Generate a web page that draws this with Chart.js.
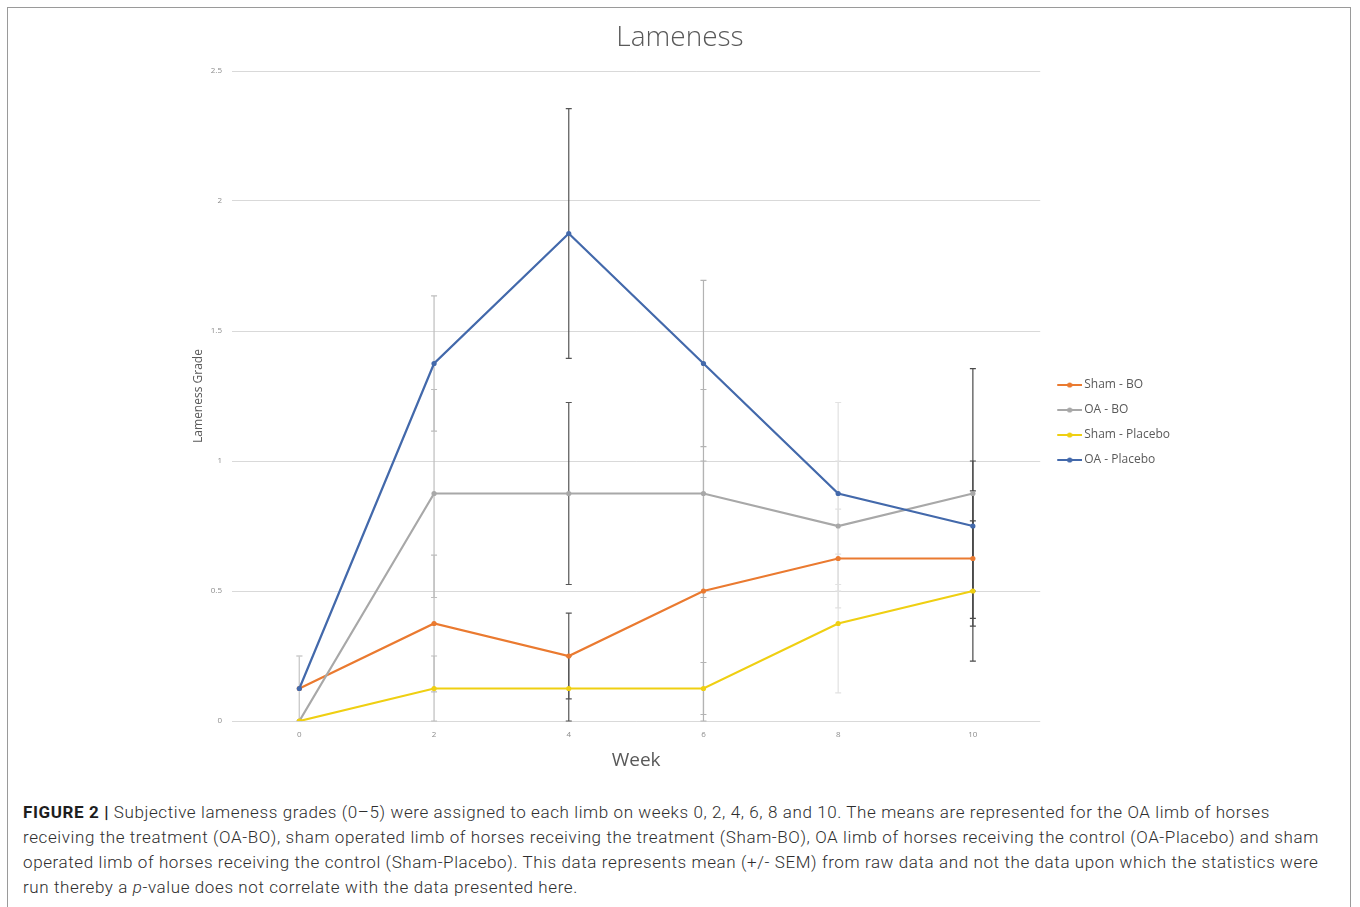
<!DOCTYPE html>
<html>
<head>
<meta charset="utf-8">
<title>Lameness</title>
<script src="https://cdn.jsdelivr.net/npm/chart.js@4/dist/chart.umd.min.js"></script>
<style>
  html, body { margin: 0; padding: 0; background: #fff; }
  #page { position: relative; width: 1360px; height: 907px; overflow: hidden; }
  #frame { position: absolute; left: 7px; top: 7px; width: 1344px; height: 910px; border: 1px solid #9a9a9a; box-sizing: border-box; }
  #chart { position: absolute; left: 0; top: 0; }
  #caption {
    position: absolute; left: 23px; top: 800px;
    font-family: "Roboto", "Liberation Sans", sans-serif; font-weight: 300;
    font-size: 17px; line-height: 25px; letter-spacing: 0.6px; color: #2e2e2e; white-space: nowrap;
  }
  #caption b { color: #1e1e1e; font-weight: 700; }
</style>
</head>
<body>
<div id="page">
  <div id="frame"></div>
  <canvas id="chart" width="1360" height="780"></canvas>
  <div id="caption">
    <b>FIGURE 2 |</b> Subjective lameness grades (0–5) were assigned to each limb on weeks 0, 2, 4, 6, 8 and 10. The means are represented for the OA limb of horses<br>
    receiving the treatment (OA-BO), sham operated limb of horses receiving the treatment (Sham-BO), OA limb of horses receiving the control (OA-Placebo) and sham<br>
    operated limb of horses receiving the control (Sham-Placebo). This data represents mean (+/- SEM) from raw data and not the data upon which the statistics were<br>
    run thereby a <i>p</i>-value does not correlate with the data presented here.
  </div>
</div>
<script>
// Weeks after surgery
const weeks = ['0', '2', '4', '6', '8', '10'];

// Mean lameness grade per group
const shamBO      = [0.125, 0.375, 0.25,  0.5,   0.625, 0.625];
const oaBO        = [0,     0.875, 0.875, 0.875, 0.75,  0.875];
const shamPlacebo = [0,     0.125, 0.125, 0.125, 0.375, 0.5];
const oaPlacebo   = [0.125, 1.375, 1.875, 1.375, 0.875, 0.75];

// Standard error of the mean per group
const shamBOSem      = [0.125, 0.263, 0.165, 0.5,  0.19,  0.26];
const oaBOSem        = [0,     0.4,   0.35,  0.4,  0.25,  0.48];
const shamPlaceboSem = [0,     0.125, 0.125, 0.1,  0.267, 0.27];
const oaPlaceboSem   = [0.125, 0.26,  0.48,  0.32, 0.35,  0.25];

// Y axis tick labels
const yTickLabels = ['0', '0.5', '1', '1.5', '2', '2.5'];

const seriesNames = ['Sham - BO', 'OA - BO', 'Sham - Placebo', 'OA - Placebo'];
const seriesColors = ['#ea7a30', '#a8a8a8', '#efcf12', '#4369ab'];
const errorBarColors = ['#cdcdcd', '#bdbdbd', '#555555', '#b3b3b3', '#e2e2e2', '#4a4a4a'];

const FONT = '"Open Sans", "Liberation Sans", sans-serif';

// Line-with-marker swatch for the legend (left margin keeps it next to the text)
function legendSwatch(color) {
  const c = document.createElement('canvas');
  c.width = 33; c.height = 8;
  const g = c.getContext('2d');
  g.strokeStyle = color; g.lineWidth = 2;
  g.beginPath(); g.moveTo(8, 4); g.lineTo(33, 4); g.stroke();
  g.fillStyle = color;
  g.beginPath(); g.arc(20.5, 4, 2.6, 0, Math.PI * 2); g.fill();
  return c;
}

// Vertical error bars with caps, positioned through the chart scales
const errorBars = {
  id: 'errorBars',
  beforeDatasetsDraw(chart) {
    const ctx = chart.ctx;
    const xs = chart.scales.x, ys = chart.scales.y;
    ctx.save();
    ctx.lineWidth = 1.2;
    chart.data.datasets.forEach(ds => {
      ds.sem.forEach((e, i) => {
        if (!e) return;
        const x = xs.getPixelForValue(i);
        const yTop = ys.getPixelForValue(ds.data[i] + e);
        const yBot = ys.getPixelForValue(Math.max(0, ds.data[i] - e));
        ctx.strokeStyle = errorBarColors[i];
        ctx.beginPath();
        ctx.moveTo(x, yTop); ctx.lineTo(x, yBot);
        ctx.moveTo(x - 3, yTop); ctx.lineTo(x + 3, yTop);
        ctx.moveTo(x - 3, yBot); ctx.lineTo(x + 3, yBot);
        ctx.stroke();
      });
    });
    ctx.restore();
  }
};

const groups = [
  { data: shamBO, sem: shamBOSem, order: 3 },
  { data: oaBO, sem: oaBOSem, order: 2 },
  { data: shamPlacebo, sem: shamPlaceboSem, order: 1 },
  { data: oaPlacebo, sem: oaPlaceboSem, order: 0 }
];

const datasets = groups.map((g, k) => ({
  label: seriesNames[k],
  data: g.data,
  sem: g.sem,
  order: g.order,
  borderColor: seriesColors[k],
  backgroundColor: seriesColors[k],
  pointBackgroundColor: seriesColors[k],
  pointBorderColor: seriesColors[k],
  borderWidth: 2.2,
  pointRadius: 2.6,
  pointBorderWidth: 0,
  tension: 0,
  fill: false
}));

new Chart(document.getElementById('chart'), {
  type: 'line',
  data: { labels: weeks, datasets },
  plugins: [errorBars],
  options: {
    responsive: false,
    animation: false,
    devicePixelRatio: 1,
    layout: { padding: { top: 10, left: 180, right: 180, bottom: 0 } },
    plugins: {
      tooltip: { enabled: false },
      title: {
        display: true,
        text: 'Lameness',
        color: '#595959',
        font: { family: FONT, size: 28, weight: 300, lineHeight: 1.2 },
        padding: { top: 11, bottom: 16.4 }
      },
      legend: {
        position: 'right',
        align: 'center',
        fullSize: false,
        title: { display: true, text: ' ', font: { size: 13, lineHeight: 1 }, padding: { top: 20, bottom: 20 } },
        labels: {
          usePointStyle: true,
          pointStyleWidth: 25,
          boxHeight: 10,
          padding: 13,
          color: '#595959',
          font: { family: FONT, size: 12 },
          sort: (a, b) => a.datasetIndex - b.datasetIndex,
          generateLabels(chart) {
            const items = Chart.defaults.plugins.legend.labels.generateLabels(chart);
            items.forEach(it => { it.pointStyle = legendSwatch(seriesColors[it.datasetIndex]); });
            return items;
          }
        }
      }
    },
    scales: {
      x: {
        type: 'category',
        offset: true,
        grid: { display: false, drawTicks: false },
        border: { display: false },
        ticks: { color: '#8c8c8c', font: { family: FONT, size: 8 }, padding: 9 },
        title: {
          display: true, text: 'Week', color: '#595959',
          font: { family: FONT, size: 19 }, padding: { top: 0, bottom: 8 }
        },
        afterFit(scale) { scale.height = 59; }
      },
      y: {
        min: 0, max: 2.5,
        grid: { color: '#d9d9d9', lineWidth: 1, drawTicks: false },
        border: { display: false },
        ticks: {
          stepSize: 0.5,
          color: '#8c8c8c',
          font: { family: FONT, size: 8 },
          padding: 10,
          callback: (v, i) => yTickLabels[i]
        },
        title: {
          display: true, text: 'Lameness Grade', color: '#595959',
          font: { family: FONT, size: 12 }, padding: { top: 11, bottom: 0 }
        },
        afterFit(scale) { scale.width = 52; }
      }
    }
  }
});
</script>
</body>
</html>
